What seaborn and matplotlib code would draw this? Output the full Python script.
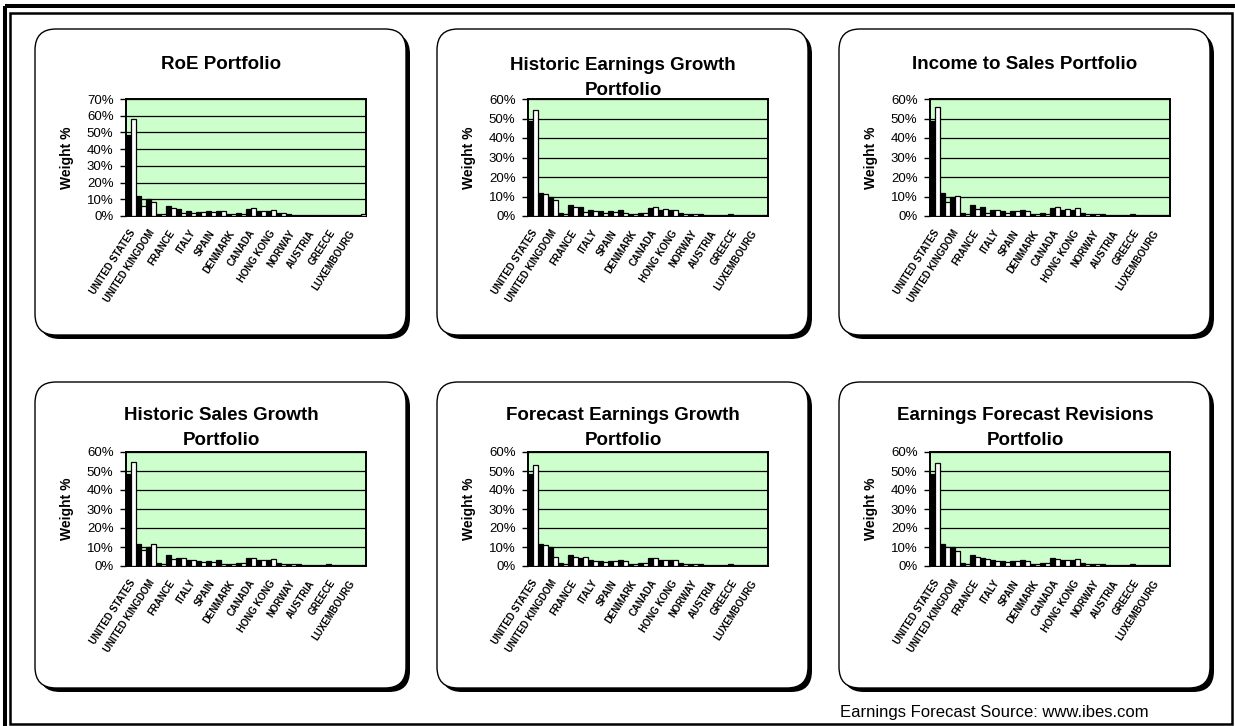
import numpy as np
import pandas as pd
import matplotlib
matplotlib.use("Agg")
import matplotlib.pyplot as plt
import seaborn as sns
from matplotlib.patches import FancyBboxPatch, Rectangle
from matplotlib.ticker import PercentFormatter, MultipleLocator
from matplotlib.transforms import ScaledTranslation

# Country categories (Excel-style axis shows every other name)
countries = ["UNITED STATES", "JAPAN", "UNITED KINGDOM", "BELGIUM", "FRANCE",
             "GERMANY", "ITALY", "NETHERLANDS", "SPAIN", "SWITZERLAND",
             "DENMARK", "SWEDEN", "CANADA", "AUSTRALIA", "HONG KONG",
             "SINGAPORE", "NORWAY", "FINLAND", "AUSTRIA", "PORTUGAL",
             "GREECE", "NEW ZEALAND", "LUXEMBOURG", "IRELAND"]

# Benchmark weights (%), black bars
benchmark = [48.5, 11.7, 10.0, 1.4, 5.7, 4.4, 3.2, 2.5, 2.8, 3.1, 1.1, 1.5,
             4.0, 3.1, 3.1, 1.6, 0.9, 0.8, 0.5, 0.6, 0.8, 0.6, 0.3, 0.7]

# Portfolio weights (%), white bars
roe_weights = [58, 6.0, 8.4, 1.3, 4.8, 2.0, 2.0, 2.4, 2.4, 2.8, 0.9, 1.2,
               4.5, 3.0, 3.3, 1.5, 0.7, 0.6, 0.5, 0.5, 0.7, 0.5, 0.3, 1.0]
hist_eg_weights = [54.3, 11.5, 8.3, 1.0, 4.5, 2.2, 2.8, 1.7, 2.0, 1.7, 1.0, 1.6,
                   4.5, 3.6, 3.1, 1.0, 0.8, 0.6, 0.5, 0.5, 0.6, 0.5, 0.3, 0.6]
inc_sales_weights = [56, 7.4, 10.5, 1.0, 3.6, 1.4, 3.1, 1.4, 2.6, 2.6, 1.0, 1.0,
                     4.5, 3.4, 4.0, 1.0, 0.8, 0.6, 0.5, 0.5, 0.6, 0.5, 0.3, 0.6]
hist_sg_weights = [54.5, 8.2, 11.4, 1.0, 3.9, 4.0, 3.0, 2.1, 2.3, 1.2, 1.0, 1.5,
                   4.0, 3.3, 3.9, 1.0, 0.8, 0.6, 0.5, 0.5, 0.6, 0.5, 0.3, 0.6]
fcst_eg_weights = [53, 11, 5.0, 1.0, 5.0, 5.0, 2.5, 2.0, 2.8, 2.8, 1.0, 1.5,
                   4.2, 3.0, 3.0, 1.0, 0.8, 0.6, 0.5, 0.5, 0.6, 0.5, 0.3, 0.6]
efr_weights = [54, 10, 8.0, 1.0, 4.5, 3.5, 2.5, 2.0, 2.5, 2.5, 1.0, 1.5,
               3.5, 3.0, 3.5, 1.0, 0.8, 0.6, 0.5, 0.5, 0.6, 0.5, 0.3, 0.6]

titles = ["RoE Portfolio",
          "Historic Earnings Growth\nPortfolio",
          "Income to Sales Portfolio",
          "Historic Sales Growth\nPortfolio",
          "Forecast Earnings Growth\nPortfolio",
          "Earnings Forecast Revisions\nPortfolio"]
portfolios = [roe_weights, hist_eg_weights, inc_sales_weights,
              hist_sg_weights, fcst_eg_weights, efr_weights]
y_max = [70, 60, 60, 60, 60, 60]

footer = "Earnings Forecast Source: www.ibes.com"

W, H = 1235, 726
sns.set_theme(style="white")
plt.rcParams["font.family"] = ["Liberation Sans", "DejaVu Sans"]
plt.rcParams.update({"text.color": "black", "axes.labelcolor": "black",
                     "xtick.color": "black", "ytick.color": "black"})

fig = plt.figure(figsize=(W / 100, H / 100), dpi=100)
fig.patch.set_facecolor("white")

# Pixel-space canvas for frames and panel boxes
bg = fig.add_axes([0, 0, 1, 1])
bg.set_xlim(0, W)
bg.set_ylim(H, 0)
bg.axis("off")

bg.add_patch(Rectangle((4.5, 6), W + 20, H + 20, fill=False, ec="black", lw=2.9))
bg.add_patch(Rectangle((10, 12.5), 1221.5, 711, fill=False, ec="black", lw=1.8))

box_w, box_h = 371, 306
box_x = [35, 437, 839]
box_y = [29, 382]

def ax_rect(x, y, w, h):
    return [x / W, 1 - (y + h) / H, w / W, h / H]

label_shift = ScaledTranslation(-2.4 / 100, 0, fig.dpi_scale_trans)

for i, (title, weights) in enumerate(zip(titles, portfolios)):
    r, c = divmod(i, 3)
    bx, by = box_x[c], box_y[r]
    # drop shadow then panel
    bg.add_patch(FancyBboxPatch((bx + 4, by + 4), box_w, box_h,
                                boxstyle="round,pad=0,rounding_size=21",
                                fc="black", ec="black", lw=0))
    bg.add_patch(FancyBboxPatch((bx, by), box_w, box_h,
                                boxstyle="round,pad=0,rounding_size=21",
                                fc="white", ec="black", lw=1.0))
    if "\n" in title:
        top_off = 28 if r == 0 else 25
    else:
        top_off = 27
    bg.text(bx + box_w / 2 + 0.5, by + top_off, title, ha="center", va="top",
            fontsize=13.5, fontweight="bold", linespacing=1.6)

    plot_top = by + 70
    plot_h = 117 if r == 0 else 114
    ax = fig.add_axes(ax_rect(bx + 91, plot_top, 240, plot_h))

    df = pd.DataFrame({
        "country": countries * 2,
        "weight": list(benchmark) + list(weights),
        "series": ["Benchmark"] * len(countries) + ["Portfolio"] * len(countries),
    })
    sns.barplot(data=df, x="country", y="weight", hue="series",
                order=countries, hue_order=["Benchmark", "Portfolio"],
                palette={"Benchmark": "black", "Portfolio": "white"},
                saturation=1, width=1.0, gap=0, errorbar=None,
                edgecolor="black", linewidth=0.9, legend=False, ax=ax, zorder=3)

    ax.set_facecolor("#CCFFCC")
    ax.set_xlim(-0.5, len(countries) - 0.5)
    ax.set_ylim(0, y_max[i])
    ax.yaxis.set_major_locator(MultipleLocator(10))
    ax.yaxis.set_major_formatter(PercentFormatter(100, decimals=0))
    ax.grid(axis="y", color="black", lw=0.9, zorder=1)
    ax.set_axisbelow(True)
    for s in ax.spines.values():
        s.set_visible(True)
        s.set_color("black")
        s.set_linewidth(1.4)
    ax.tick_params(axis="y", which="major", left=True, length=4, width=1,
                   color="black", pad=5, labelsize=9.5, labelcolor="black")
    ax.tick_params(axis="x", length=0, pad=8.8)
    ax.set_xticks(range(len(countries)))
    ax.set_xticklabels(countries, rotation=57, ha="right", va="top",
                       rotation_mode="anchor", fontsize=6.9, fontweight="bold")
    for k, lab in enumerate(ax.get_xticklabels()):
        lab.set_transform(lab.get_transform() + label_shift)
        if k % 2:
            lab.set_visible(False)
    ax.set_xlabel("")
    ax.set_ylabel("Weight %", fontsize=10, fontweight="bold", color="black")
    ax.yaxis.set_label_coords(-0.245, 0.5)
    ax.yaxis.label.set_verticalalignment("center")

bg.text(1149, 717, footer, ha="right", va="baseline", fontsize=12)

fig.savefig("out.png", dpi=100, facecolor="white")
